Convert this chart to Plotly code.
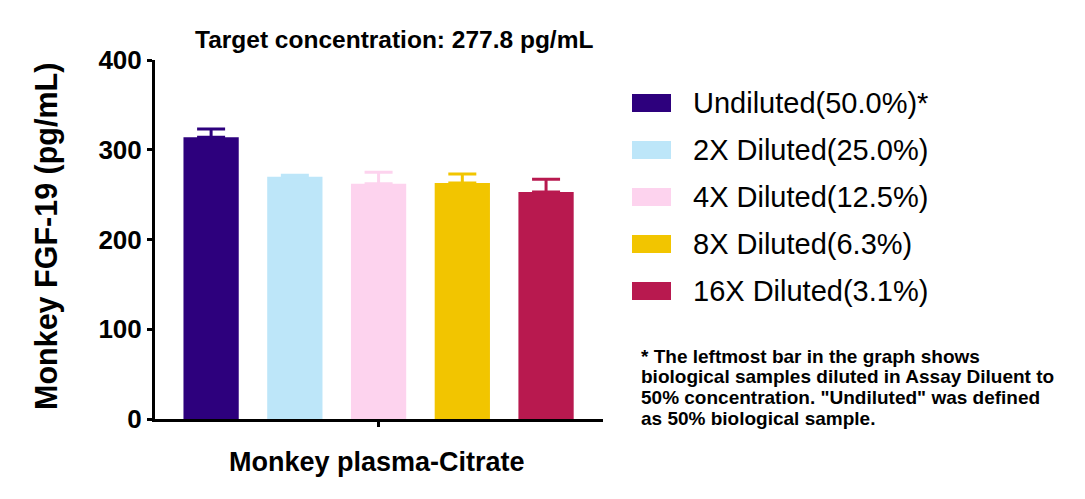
import plotly.graph_objects as go

# data
groups = ['Undiluted(50.0%)*', '2X Diluted(25.0%)', '4X Diluted(12.5%)',
          '8X Diluted(6.3%)', '16X Diluted(3.1%)']
means = [314, 270, 262, 263, 253]
sem = [9, 1.5, 13, 10, 14]
colors = ['#2D007D', '#BDE6F9', '#FDD3EE', '#F2C500', '#B8194F']
y_ticks = [0, 100, 200, 300, 400]
sample_label = 'Monkey plasma-Citrate'
title_text = 'Target concentration: 277.8 pg/mL'
note_lines = ['* The leftmost bar in the graph shows',
              'biological samples diluted in Assay Diluent to',
              '50% concentration. "Undiluted" was defined',
              'as 50% biological sample.']

OFF = 8                      # page body margin
W, H = 1085 - OFF, 499 - OFF
L, R, T, B = 155, 603, 60, 419   # plot area in page px


def px(p):
    return (p - L) / (R - L)


def py(p):
    return (B - p) / (B - T)


fig = go.Figure()
for i, (g, m, e, c) in enumerate(zip(groups, means, sem, colors)):
    fig.add_trace(go.Bar(
        x=[i], y=[m], name=g, marker=dict(color=c, line_width=0), width=0.66,
        error_y=dict(type='data', array=[e], arrayminus=[0], symmetric=False,
                     color=c, thickness=3, width=14),
        showlegend=False))

    # hand-made legend (big swatches like the original)
    yc = 103 + i * 47
    fig.add_shape(type='rect', xref='paper', yref='paper',
                  x0=px(632), x1=px(671), y0=py(yc - 9), y1=py(yc + 9),
                  fillcolor=c, line_width=0)
    fig.add_annotation(text=g, xref='paper', yref='paper', x=px(691), y=py(yc),
                       xanchor='left', yanchor='middle', showarrow=False,
                       font=dict(size=29, color='black'))

for k, line in enumerate(note_lines):
    fig.add_annotation(text='<b>' + line + '</b>', xref='paper', yref='paper',
                       x=px(639), y=py(356 + k * 20.7), xanchor='left', yanchor='middle',
                       showarrow=False, font=dict(size=19, color='black'))

fig.add_annotation(text='<b>' + title_text + '</b>', xref='paper', yref='paper',
                   x=px(394), y=py(40), xanchor='center', yanchor='middle',
                   showarrow=False, font=dict(size=24.5, color='black'))
fig.add_annotation(text='<b>' + sample_label + '</b>', xref='paper', yref='paper',
                   x=px(377), y=py(462), xanchor='center', yanchor='middle',
                   showarrow=False, font=dict(size=27, color='black'))
fig.add_annotation(text='<b>Monkey FGF-19 (pg/mL)</b>', xref='paper', yref='paper',
                   x=px(46), y=py(237), xanchor='center', yanchor='middle',
                   showarrow=False, textangle=-90, font=dict(size=30.5, color='black'))

fig.update_xaxes(range=[-0.67, 4.68], tickvals=[2], ticktext=[''], ticks='outside',
                 ticklen=5, tickwidth=3, tickcolor='black', showline=True,
                 linecolor='black', linewidth=3, showgrid=False, zeroline=False)
fig.update_yaxes(range=[0, 400], tickvals=y_ticks,
                 ticktext=['<b>%d</b>' % v for v in y_ticks], ticks='outside',
                 ticklen=5, tickwidth=3, tickcolor='black', showline=True,
                 linecolor='black', linewidth=3, showgrid=False, zeroline=False,
                 tickfont=dict(size=26, color='black'))

fig.update_layout(width=W, height=H, barmode='overlay',
                  margin=dict(l=L - OFF, r=W - (R - OFF), t=T - OFF, b=H - (B - OFF)),
                  plot_bgcolor='white', paper_bgcolor='white',
                  font=dict(family='Liberation Sans, Arial, sans-serif', color='black'))

fig.write_html('out.html')
